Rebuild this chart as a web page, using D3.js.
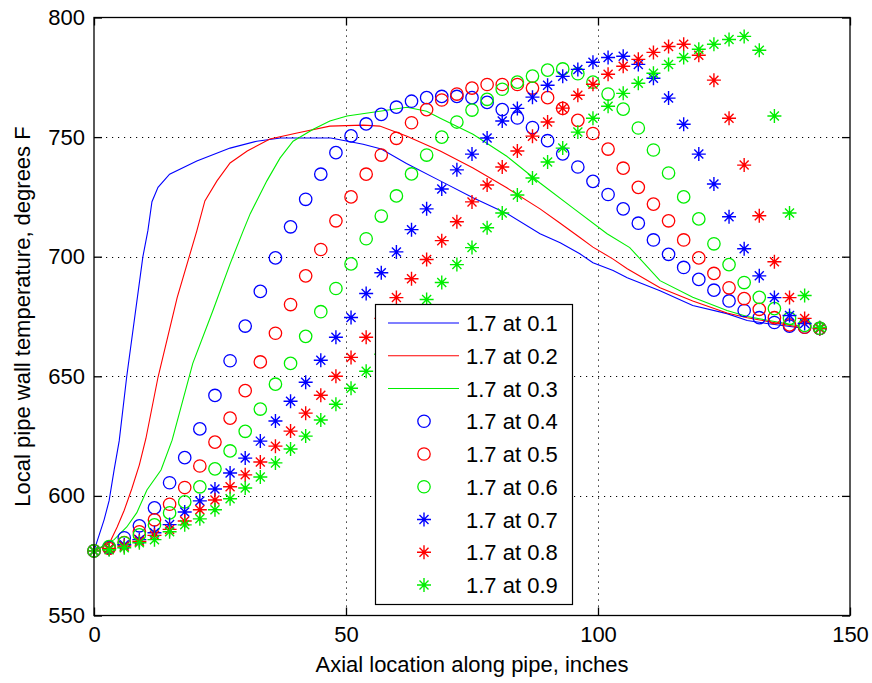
<!DOCTYPE html>
<html><head><meta charset="utf-8">
<script src="https://cdn.jsdelivr.net/npm/d3@7"></script>
<style>
body{margin:0;background:#fff}
svg{display:block}
text{font-family:"Liberation Sans",Arial,sans-serif}
</style>
</head><body>
<svg id="chart" width="872" height="683"></svg>
<script>
// ---------- data ----------
const xGrid = [0,3,6,9,12,15,18,21,24,27,30,33,36,39,42,45,48,51,54,57,60,63,66,69,72,75,78,81,84,87,90,93,96,99,102,105,108,111,114,117,120,123,126,129,132,135,138,141,144];

const line01X = [0,2,3,4,5,6.5,9.7,10.7,11.5,12.7,15,20.4,27,32.3,37,47,53.4,57,62,68.7,75.2,82,88.5,92.5,96.4,99,103,105.8,112.3,118.8,125.6,129.6,133.5,140];
const line01Y = [577,590,598,611,623,650,700,711,723,729,734.5,740,745.4,748.3,749.6,749.6,747,745,739,731.7,724.6,718,709.6,705.8,701.2,697.5,694.2,691.2,685.8,679.6,676.2,673.3,672.1,670.3];

const line02X = [0,3,4.6,6,7.5,9,10.3,12.7,16.5,20.4,22,24.4,27,30.4,34.9,40.3,46.8,53.4,56.7,62.1,68.7,75.2,81.9,88.5,92.5,96.4,99,103,105.8,112.3,118.8,125.6,129.6,140];
const line02Y = [577,580,587,594,603,613,624,649.6,682.9,710.8,723.3,731.7,739.2,744.2,749.2,751.7,754.6,755,754.6,750.4,744.2,737.1,728.8,720,714,708,704,699,695,687,681.5,676.5,674.5,670.5];

const line03X = [0,4,6.5,8.5,10.5,13.3,15.5,19.6,23.6,27,29.6,31,34.3,36.9,39.5,43.5,46.8,50.2,56.7,62.1,66,68.7,75.2,81.9,88.5,95,101.8,106.3,112.3,118.8,125.6,129.6,140];
const line03Y = [577,581.7,587,593,602.5,610.8,623.3,655.4,677.5,697,710.8,718,731.7,741.2,748.3,753.3,756.7,758.8,760.8,762.5,760.8,757.9,751.2,742,730.8,720.4,709.6,703.8,690,683,677.5,675,671];

const circles04 = [577,578.5,582.5,587.5,595,605.5,616,628,642,656.5,671,685.5,699.5,712.5,724,734.5,743.5,750.5,755.5,759.5,762.5,765,766.5,767,767,766.5,764.5,761.5,758,754,748.5,743,737.5,731.5,726,720,714,707,701,695.5,690.5,686,681.5,677.5,674.5,672.5,671,670.5,670];
const circles05 = [577,578,580.5,585,590,596.5,603.5,612.5,622.5,632.5,644,656,668,680,692,703,715,725,734.5,742.5,749.5,756,761.5,765.5,768,770.5,772,772,772,770.5,766.5,762,757,751.5,745,737,729,722,715,707,699.5,693,687,682.5,678,674.5,671.5,670.5,670];
const circles06 = [577,578.8,580.4,583.7,587.9,592.9,597.5,603.8,611.3,618.8,627,636.3,646.7,655.4,666.7,677,686.7,697,707.5,717,725.4,734.6,742.5,750,756.3,761.3,765.8,770,773,775.5,778,778.5,776.5,773,768,761.7,753.8,744.6,735,725,715.8,705.4,696.7,689.2,683,678.3,674.2,671.3,670];
const stars07 = [577,577.9,579.6,581.7,584.6,588,593.3,597.9,602.9,609.6,615.8,622.9,631.3,639.6,647.5,656.7,666.3,674.6,684.6,693.3,702,711.3,720,728.3,736.3,742.9,749.6,756.7,762,766.7,771.7,775.4,778.3,781.3,783.3,783.8,780.4,774.6,766.3,755.4,742.9,730.4,716.7,703.3,692,682.9,675.4,672.1,670];
const stars08 = [577,578,579,581,583.5,586,589.5,594.2,598.3,603.8,608.8,614.2,620.8,627.1,634.6,642.1,650,657.9,666.3,674.2,682.9,690.8,698.8,706.7,714.6,722.9,730,737.5,744.2,750.4,756.3,762.1,767.5,772.1,776.3,779.6,782.5,785.4,787.9,788.8,784.2,773.8,757.9,738.3,717.1,697.9,682.9,674.2,670];
const stars09 = [577,577.5,578.3,580.4,581.7,585,587.9,590.4,594.2,598.8,603.3,607.9,613.8,619.6,625,631.7,638.3,645,652.1,659.2,666.7,674.2,682.1,689.2,696.7,703.8,712.1,718.3,725.8,732.9,739.6,745.4,752.1,757.9,762.9,768.3,772.5,776.7,780.4,783.3,786.7,788.8,790.8,792.1,786.3,758.8,718.3,683.8,670.4];

const legendLabels = ["1.7 at 0.1","1.7 at 0.2","1.7 at 0.3","1.7 at 0.4","1.7 at 0.5","1.7 at 0.6","1.7 at 0.7","1.7 at 0.8","1.7 at 0.9"];
const xTickVals = [0,50,100,150];
const yTickVals = [550,600,650,700,750,800];
const xLabel = "Axial location along pipe, inches";
const yLabel = "Local pipe wall temperature, degrees F";

// ---------- setup ----------
const BLUE = "#0000ff", RED = "#ff0000", GREEN = "#00ee00";
const series = [
  {type:"line", xs:line01X, ys:line01Y, color:BLUE},
  {type:"line", xs:line02X, ys:line02Y, color:RED},
  {type:"line", xs:line03X, ys:line03Y, color:GREEN},
  {type:"circle", xs:xGrid, ys:circles04, color:BLUE},
  {type:"circle", xs:xGrid, ys:circles05, color:RED},
  {type:"circle", xs:xGrid, ys:circles06, color:GREEN},
  {type:"star", xs:xGrid, ys:stars07, color:BLUE},
  {type:"star", xs:xGrid, ys:stars08, color:RED},
  {type:"star", xs:xGrid, ys:stars09, color:GREEN}
];

const L = 94, R = 850, T = 17.5, B = 615.5;
const x = d3.scaleLinear().domain([0,150]).range([L,R]);
const y = d3.scaleLinear().domain([550,800]).range([B,T]);
const svg = d3.select("#chart");
svg.append("rect").attr("width",872).attr("height",683).attr("fill","#fff");

// grid
const grid = svg.append("g").attr("stroke","#000").attr("stroke-width",1).attr("stroke-dasharray","1.2,4.8");
grid.selectAll(".gx").data(xTickVals.slice(1,-1)).join("line")
  .attr("x1",d=>Math.round(x(d))+0.5).attr("x2",d=>Math.round(x(d))+0.5).attr("y1",T).attr("y2",B);
grid.selectAll(".gy").data(yTickVals.slice(1,-1)).join("line")
  .attr("y1",d=>Math.round(y(d))+0.5).attr("y2",d=>Math.round(y(d))+0.5).attr("x1",L).attr("x2",R);

// star path
const starPath = "M-7,0H7M0,-7V7M-4.5,-4.5L4.5,4.5M-4.5,4.5L4.5,-4.5";

function drawMarker(g, type, color){
  if(type==="circle"){
    g.append("circle").attr("r",6.2).attr("fill","none").attr("stroke",color).attr("stroke-width",1.3);
  } else {
    g.append("path").attr("d",starPath).attr("fill","none").attr("stroke",color).attr("stroke-width",1.4);
  }
}

const dataG = svg.append("g");
series.forEach(s=>{
  const pts = s.xs.map((v,i)=>[v,s.ys[i]]);
  if(s.type==="line"){
    dataG.append("path").datum(pts)
      .attr("d", d3.line().x(d=>x(d[0])).y(d=>y(d[1])))
      .attr("fill","none").attr("stroke",s.color).attr("stroke-width",1.1);
  } else {
    const g = dataG.append("g");
    pts.forEach(p=>{
      const m = g.append("g").attr("transform",`translate(${x(p[0])},${y(p[1])})`);
      drawMarker(m, s.type, s.color);
    });
  }
});

// axes (ticks inward)
const fs = 22;
const axB = svg.append("g").attr("transform",`translate(0,${B})`)
  .call(d3.axisBottom(x).tickValues(xTickVals).tickSize(-8).tickPadding(11).tickFormat(d3.format("d")));
const axL = svg.append("g").attr("transform",`translate(${L},0)`)
  .call(d3.axisLeft(y).tickValues(yTickVals).tickSize(-8).tickPadding(9).tickFormat(d3.format("d")));
const axT = svg.append("g").attr("transform",`translate(0,${T})`)
  .call(d3.axisTop(x).tickValues(xTickVals).tickSize(-8).tickFormat(""));
const axR = svg.append("g").attr("transform",`translate(${R},0)`)
  .call(d3.axisRight(y).tickValues(yTickVals).tickSize(-8).tickFormat(""));
[axB,axL,axT,axR].forEach(a=>{
  a.select(".domain").remove();
  a.selectAll("line").attr("stroke","#000").attr("stroke-width",1.3);
  a.selectAll("text").attr("font-size",fs).attr("fill","#000").attr("font-family","'Liberation Sans',Arial,sans-serif");
});
svg.append("rect").attr("x",L).attr("y",T).attr("width",R-L).attr("height",B-T)
  .attr("fill","none").attr("stroke","#000").attr("stroke-width",1.3);

// axis labels
svg.append("text").attr("x",(L+R)/2).attr("y",672).attr("text-anchor","middle")
  .attr("font-size",fs).text(xLabel);
svg.append("text").attr("transform",`translate(30,${(T+B)/2}) rotate(-90)`).attr("text-anchor","middle")
  .attr("font-size",fs).text(yLabel);

// legend
const lg = svg.append("g");
lg.append("rect").attr("x",375.5).attr("y",304.5).attr("width",197).attr("height",300)
  .attr("fill","#fff").attr("stroke","#000").attr("stroke-width",1.2);
series.forEach((s,i)=>{
  const cy = 323 + i*32.75;
  if(s.type==="line"){
    lg.append("line").attr("x1",388).attr("x2",459).attr("y1",cy).attr("y2",cy)
      .attr("stroke",s.color).attr("stroke-width",1.1);
  } else {
    const m = lg.append("g").attr("transform",`translate(424,${cy})`);
    drawMarker(m, s.type, s.color);
  }
  lg.append("text").attr("x",466).attr("y",cy+8).attr("font-size",fs).text(legendLabels[i]);
});
</script>
</body></html>
